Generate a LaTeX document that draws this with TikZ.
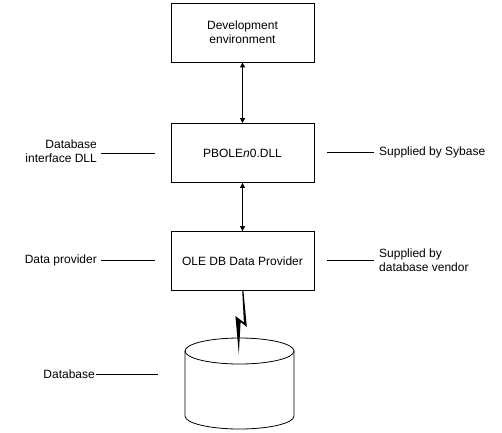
\documentclass[tikz,border=0pt]{standalone}
\usepackage{fontspec}
\setmainfont{Liberation Sans}
\usetikzlibrary{arrows.meta}
\begin{document}
\begin{tikzpicture}[x=1pt,y=-1pt,
  box/.style={draw,line width=0.8pt,minimum width=143pt,minimum height=59pt,inner sep=0pt,align=center,font=\fontsize{12}{14}\selectfont},
  lbl/.style={inner sep=0pt,font=\fontsize{12}{14}\selectfont},
  conn/.style={line width=0.8pt},
  dbl/.style={line width=0.8pt,{Triangle[length=5pt,width=5pt]}-{Triangle[length=5pt,width=5pt]}}]
\useasboundingbox (0,0) rectangle (502,432);
\node[box] (dev) at (242.5,32.5) {Development\\environment};
\node[box] (dll) at (242.5,153) {PBOLE\textit{n}0.DLL};
\node[box] (ole) at (242.5,261) {OLE DB Data Provider};
\draw[dbl] (dev.south) -- (dll.north);
\draw[dbl] (dll.south) -- (ole.north);
% cylinder
\coordinate (ctop) at (239.5,351);
\draw[line width=0.8pt] (185,351) -- (185,416) arc[start angle=180,end angle=360,x radius=54.5pt,y radius=13pt] -- (294,351);
\draw[line width=0.8pt] (ctop) ellipse[x radius=54.5pt,y radius=13pt];
% lightning (filled bolt)
\coordinate (bA) at (242.2,290.5);
\coordinate (bB) at (243.4,290.5);
\coordinate (bC) at (246.8,327);
\coordinate (bD) at (240.6,322);
\coordinate (bE) at (238.8,354);
\coordinate (bF) at (235.4,316);
\coordinate (bG) at (243.9,322.5);
\fill (bA) -- (bB) -- (bC) -- (bD) -- (bE) -- (bF) -- (bG) -- cycle;
% left labels
\node[lbl,anchor=east,align=right] (ldll) at (97,151.5) {Database\\interface DLL};
\coordinate (ldllA) at (101,153);
\coordinate (ldllB) at (155,153);
\draw[conn] (ldllA) -- (ldllB);
\node[lbl,anchor=east] (lprov) at (97,260) {Data provider};
\coordinate (lprovA) at (101,260);
\coordinate (lprovB) at (155,260);
\draw[conn] (lprovA) -- (lprovB);
\node[lbl,anchor=east] (ldb) at (95,374) {Database};
\coordinate (ldbA) at (96,374);
\coordinate (ldbB) at (158,374);
\draw[conn] (ldbA) -- (ldbB);
% right labels
\node[lbl,anchor=west] (rsyb) at (379,152) {Supplied by Sybase};
\coordinate (rsybA) at (327,152);
\coordinate (rsybB) at (374,152);
\draw[conn] (rsybA) -- (rsybB);
\node[lbl,anchor=west,align=left] (rven) at (379,260) {Supplied by\\database vendor};
\coordinate (rvenA) at (327,260);
\coordinate (rvenB) at (374,260);
\draw[conn] (rvenA) -- (rvenB);
\end{tikzpicture}
\end{document}
